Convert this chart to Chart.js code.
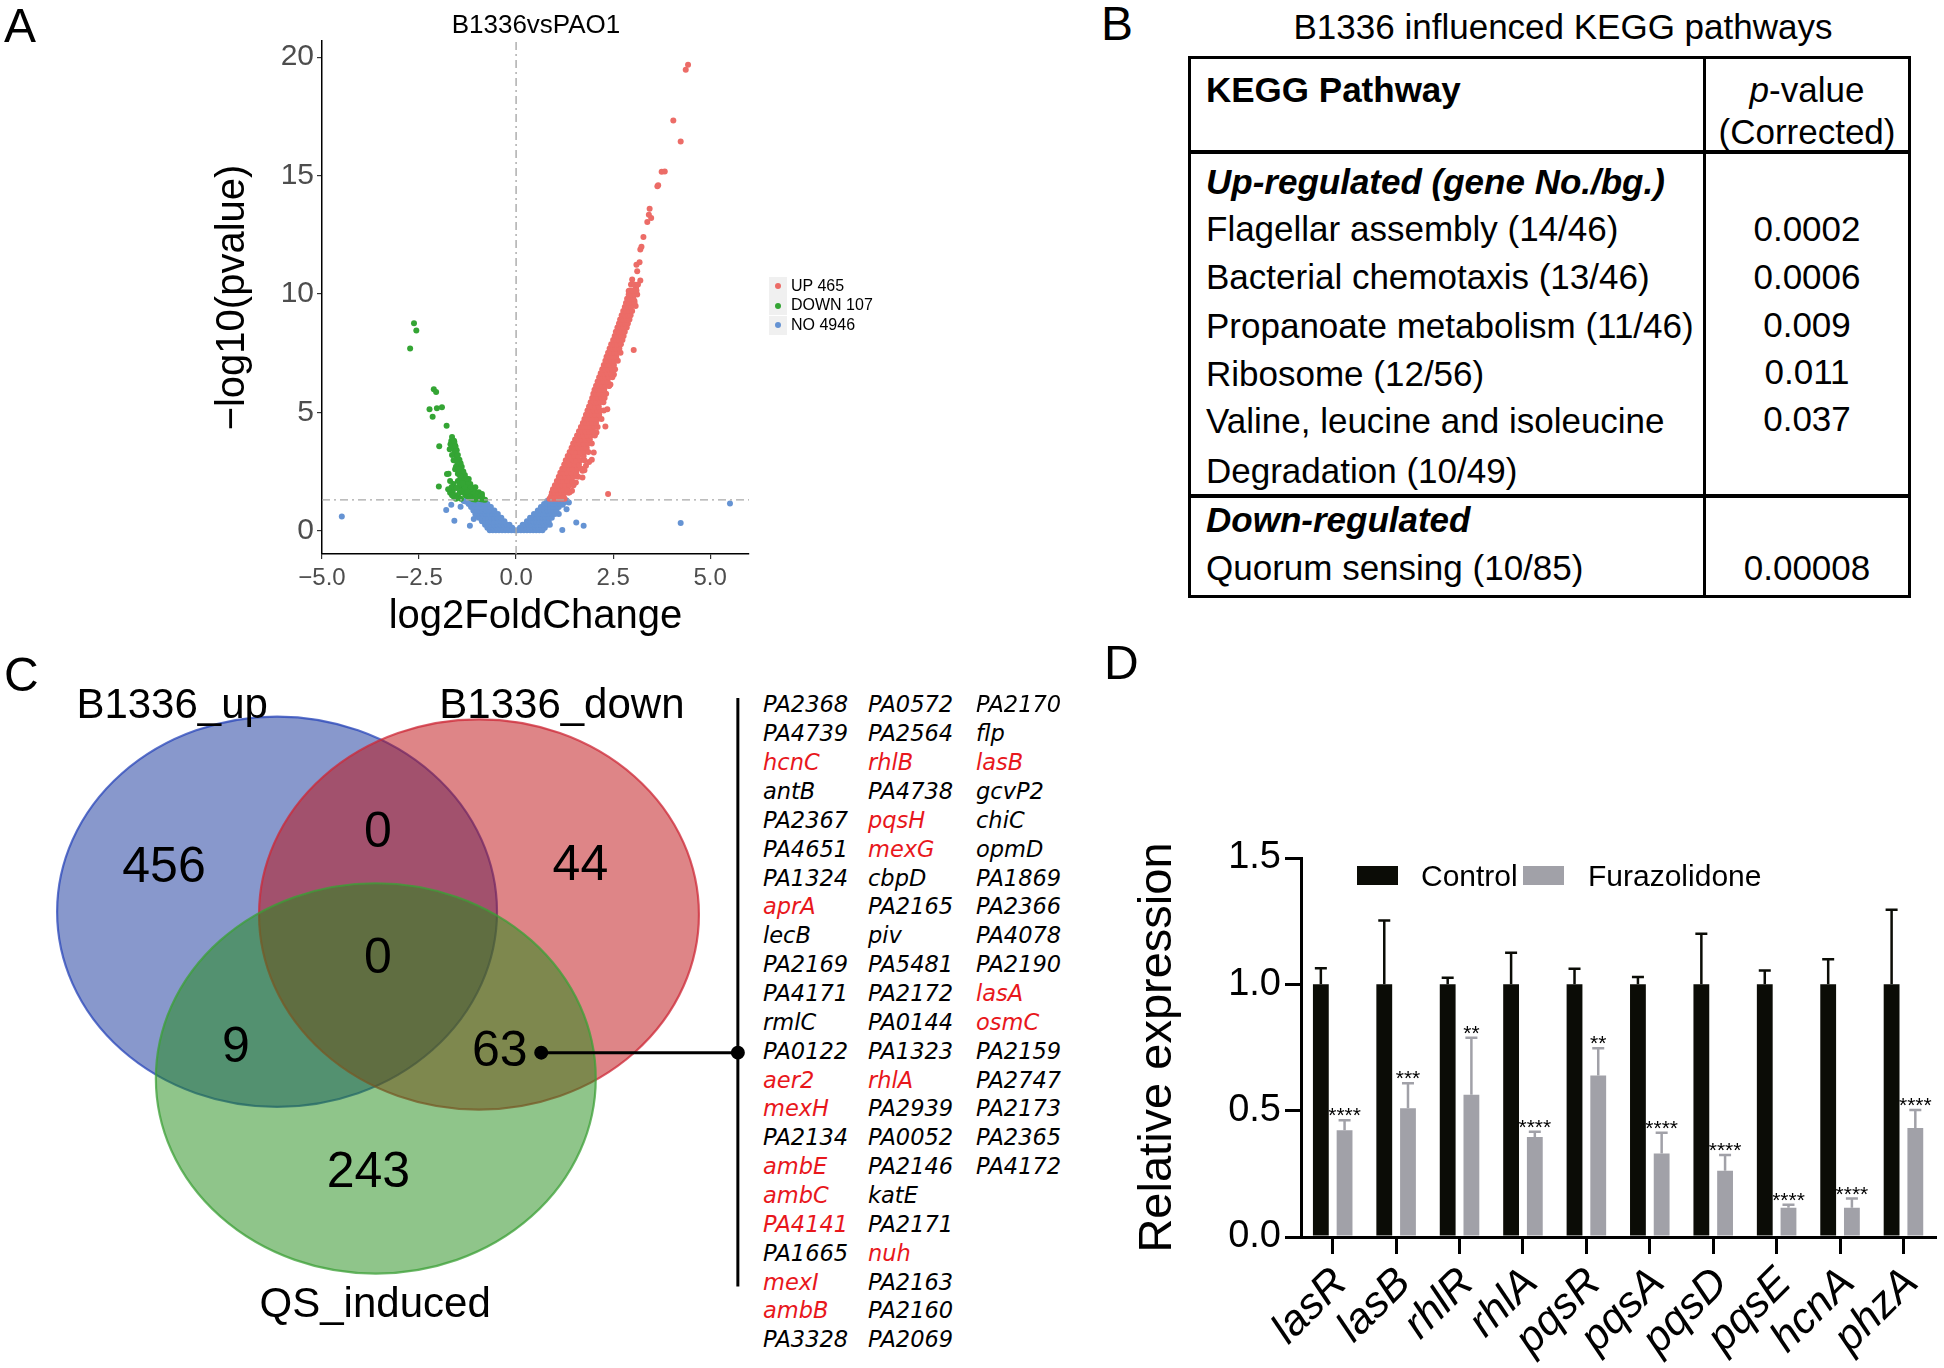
<!DOCTYPE html>
<html>
<head>
<meta charset="utf-8">
<script src="https://cdn.jsdelivr.net/npm/chart.js@4.4.1/dist/chart.umd.min.js"></script>
<style>
  body { margin: 0; background: #fff; }
  #page { position: relative; width: 1944px; height: 1368px; overflow: hidden; font-family: 'Liberation Sans', Arial, sans-serif; color: #000; }
  canvas { position: absolute; }
  .t { position: absolute; white-space: nowrap; line-height: 1.15; }
  .lab { font-size: 48px; }
  .tb { font-size: 35px; }
  .gene { position: absolute; white-space: nowrap; line-height: 1.15; font-family: 'DejaVu Sans', sans-serif; font-style: italic; font-size: 22.5px; }
  .hl { position: absolute; background: #000; }
</style>
</head>
<body>
<div id="page">
  <canvas id="chartA" width="780" height="640" style="left:0;top:0"></canvas>
  <canvas id="chartC" width="760" height="700" style="left:0;top:640px"></canvas>
  <canvas id="chartD" width="844" height="728" style="left:1100px;top:640px"></canvas>

  <div class="t lab" style="left:4px;top:-2px">A</div>
  <div class="t lab" style="left:1101px;top:-4px">B</div>
  <div class="t lab" style="left:4px;top:647px">C</div>
  <div class="t lab" style="left:1104px;top:635px">D</div>

  <div class="t" style="left:536px;top:10px;font-size:26px;transform:translateX(-50%)">B1336vsPAO1</div>
  <div id="legendA"></div>

  <div id="tableB"></div>
  <div id="genes"></div>
  <div id="legendD"></div>
</div>

<script>
// ---------- Panel A: volcano data ----------
const xTicksA = [-5, -2.5, 0, 2.5, 5];
const yTicksA = [0, 5, 10, 15, 20];
const pCutoff = 1.3;
const legendA = ['UP 465', 'DOWN 107', 'NO 4946'];

const upScatter = [
  [4.43,19.68],[4.37,19.47],[4.05,17.33],[4.24,16.44],[3.75,15.16],[3.83,15.17],[3.64,14.55],[3.66,14.59],
  [3.44,13.6],[3.42,13.35],[3.48,13.21],[3.38,13.04],[3.28,12.41],[3.2,11.88],[3.23,11.99],[3.1,11.23],
  [3.18,11.34],[3.12,10.96],[2.99,10.61],[3.2,10.57],[3.09,10.26],[2.9,10.12],[3.05,9.7],[3.08,9.49],
  [3.03,7.63],[2.35,5.13],[2.37,1.55],[2.07,4.15],[1.8,2.74],[1.71,2.53],[1.71,2.25],[1.54,2.04],
  [1.44,1.69],[1.38,1.62],[2.39,6.11],[2.43,6.18],[1.95,3.0],[1.88,2.9],[2.0,3.3],[1.76,2.55],[2.3,4.4],[2.52,6.6]
];
const upRows = [
  [1.35,[0.86,0.94,1.02,1.1,1.18,1.25]],
  [1.45,[0.9,0.98,1.06,1.14,1.22]],
  [1.6,[0.92,1.0,1.08,1.16,1.25,1.35]],
  [1.75,[0.95,1.04,1.13,1.22,1.32]],
  [1.92,[1.0,1.09,1.18,1.27,1.38,1.48]],
  [2.1,[1.05,1.14,1.23,1.32,1.44]],
  [2.28,[1.1,1.19,1.28,1.37,1.48,1.6]],
  [2.45,[1.14,1.23,1.32,1.42,1.55]],
  [2.62,[1.19,1.28,1.37,1.46,1.58,1.68]],
  [2.8,[1.24,1.32,1.41,1.5,1.62]],
  [2.98,[1.28,1.37,1.46,1.55,1.66,1.76]],
  [3.15,[1.33,1.41,1.5,1.6,1.74]],
  [3.32,[1.38,1.46,1.55,1.65,1.76,1.86]],
  [3.5,[1.43,1.51,1.6,1.7,1.82]],
  [3.68,[1.47,1.56,1.64,1.74,1.85,1.95]],
  [3.85,[1.52,1.6,1.69,1.79,1.9]],
  [4.02,[1.57,1.65,1.74,1.83,1.93,2.03]],
  [4.2,[1.62,1.7,1.78,1.88,1.98]],
  [4.38,[1.67,1.75,1.83,1.92,2.02,2.1]],
  [4.55,[1.72,1.8,1.88,1.97,2.06]],
  [4.72,[1.76,1.84,1.92,2.01,2.1,2.2]],
  [4.9,[1.8,1.88,1.96,2.05,2.14]],
  [5.08,[1.84,1.92,2.0,2.09,2.18,2.26]],
  [5.25,[1.88,1.96,2.04,2.13]],
  [5.42,[1.92,2.0,2.08,2.16,2.25]],
  [5.6,[1.96,2.04,2.12,2.2,2.28]],
  [5.78,[1.99,2.07,2.15,2.23,2.32]],
  [5.95,[2.02,2.1,2.18,2.27]],
  [6.12,[2.06,2.14,2.22,2.31,2.4]],
  [6.3,[2.1,2.18,2.26,2.36]],
  [6.48,[2.14,2.22,2.3,2.39,2.48]],
  [6.65,[2.18,2.26,2.34,2.44]],
  [6.82,[2.22,2.3,2.38,2.47,2.55]],
  [7.0,[2.26,2.34,2.42,2.52]],
  [7.18,[2.3,2.38,2.45,2.54,2.62]],
  [7.35,[2.33,2.41,2.49,2.58]],
  [7.52,[2.37,2.45,2.53,2.61,2.69]],
  [7.7,[2.41,2.49,2.57,2.66]],
  [7.88,[2.45,2.53,2.61,2.7]],
  [8.05,[2.5,2.58,2.66,2.74]],
  [8.22,[2.54,2.62,2.7,2.77]],
  [8.4,[2.57,2.65,2.73,2.8]],
  [8.58,[2.61,2.69,2.77,2.85]],
  [8.75,[2.65,2.73,2.81,2.88]],
  [8.92,[2.68,2.76,2.84,2.92]],
  [9.1,[2.72,2.8,2.88,2.95]],
  [9.28,[2.76,2.84,2.92,2.99]],
  [9.45,[2.8,2.88,2.96]],
  [9.62,[2.83,2.91,2.99,3.05]],
  [9.8,[2.86,2.94,3.02]],
  [9.98,[2.9,2.97,3.05,3.12]],
  [10.15,[2.93,3.0,3.1]],
  [10.4,[2.96,3.04,3.14]]
];
const downScatter = [
  [-2.63,8.76],[-2.57,8.46],[-2.73,7.70],[-2.12,5.97],[-2.06,5.86],[-2.23,5.13],[-2.04,5.17],[-1.91,5.21],
  [-2.15,4.81],[-1.79,4.43],[-1.65,3.96],[-1.67,3.79],[-1.69,3.65],[-1.71,3.44],[-1.98,3.57],[-1.63,3.6],
  [-1.6,3.45],[-1.58,3.3],[-1.55,3.2],[-1.52,3.1],[-1.5,3.0],[-1.61,2.98],[-1.48,2.85],[-1.46,2.75],
  [-1.44,2.65],[-1.78,2.39],[-1.74,2.4],[-1.99,1.87],[-1.61,1.97],[-1.63,1.69],[-1.56,1.5],[-1.45,1.62],
  [-1.4,2.5],[-1.38,2.4],[-1.36,2.3],[-1.42,2.2],[-1.5,2.1],[-1.34,2.15],[-1.32,2.05],[-1.3,1.95],
  [-1.28,1.88],[-1.25,1.8],[-1.22,1.72],[-1.2,1.65],[-1.18,1.6],[-1.15,1.55],[-1.12,1.5],[-1.1,1.45],
  [-1.05,1.42],[-1.0,1.38],[-0.95,1.35],[-0.9,1.33],[-0.85,1.32],[-0.8,1.31],[-1.35,1.6],[-1.3,1.5],
  [-1.25,1.45],[-1.2,1.4],[-1.15,1.36],[-1.4,1.8],[-1.38,1.7],[-1.33,1.75],[-1.28,1.6],[-1.23,1.55],
  [-1.1,1.33],[-1.05,1.32],[-1.45,1.95],[-1.5,2.4],[-1.47,2.5],[-1.55,2.7],[-1.57,2.6],[-1.65,3.2],
  [-1.59,3.75],[-1.56,3.55],[-1.7,2.1],[-1.66,1.85],[-1.53,1.8],[-1.48,1.4],[-1.42,1.35],[-1.6,1.42],
  [-1.39,2.1],[-1.22,2.18],[-1.18,1.97],[-1.05,1.83],[-0.96,1.62],[-0.88,1.55],
  [-0.88,1.45],[-0.92,1.5],[-0.98,1.55],[-1.02,1.6],[-1.08,1.7],[-1.12,1.78],[-1.16,1.85],[-1.2,1.95],
  [-1.24,2.05],[-1.28,2.2],[-1.32,2.35],[-1.36,2.5],[-1.4,2.7],[-1.43,2.85],[-1.46,3.0],[-1.5,3.2],
  [-1.53,3.4],[-1.57,3.6],[-1.6,3.8],[-1.0,1.5],[-1.05,1.6],[-1.12,1.65],[-1.18,1.75],[-1.25,1.65],
  [-1.32,1.85],[-1.38,2.0],[-1.44,2.3],[-1.48,2.6],[-1.52,2.9],[-1.7,1.6],[-1.75,1.75],[-1.55,1.35],[-1.65,1.5]
];
const noScatter = [
  [-4.49,0.6],[5.51,1.15],[4.24,0.32],[-1.8,0.87],[-1.67,1.1],[-1.43,1.01],[-1.59,0.42],[-1.19,0.21],
  [1.55,0.35],[1.74,0.21],[1.19,0.03],[1.30,0.91],[1.36,1.19],[1.1,0.7],[0.87,0.25],[-0.66,0.03],
  [-0.64,0.14],[-1.09,0.49],[-1.05,0.7],[-0.92,0.91],[-1.35,1.25],[-1.28,1.22],[1.25,1.2],[1.2,1.1],
  [1.15,1.25],[1.3,1.28]
];
const noRows = [
  [0.02,[-0.68,-0.6,-0.52,-0.44,-0.36,-0.28,-0.2,-0.12,-0.04,0.04,0.12,0.2,0.28,0.36,0.44,0.52,0.6,0.68]],
  [0.12,[-0.74,-0.66,-0.58,-0.5,-0.42,-0.34,-0.26,-0.18,-0.1,0.1,0.18,0.26,0.34,0.42,0.5,0.58,0.66,0.74]],
  [0.25,[-0.8,-0.72,-0.64,-0.56,-0.48,-0.4,-0.32,-0.24,-0.17,0.17,0.24,0.32,0.4,0.48,0.56,0.64,0.72,0.8]],
  [0.4,[-0.88,-0.8,-0.72,-0.64,-0.56,-0.48,-0.4,-0.3,0.28,0.36,0.44,0.52,0.6,0.68,0.76,0.84]],
  [0.55,[-0.96,-0.88,-0.8,-0.72,-0.64,-0.56,-0.48,-0.38,0.36,0.44,0.52,0.6,0.68,0.76,0.84,0.92]],
  [0.7,[-1.02,-0.94,-0.86,-0.78,-0.7,-0.62,-0.54,-0.47,0.46,0.54,0.62,0.7,0.78,0.86,0.94,1.0]],
  [0.85,[-1.1,-1.02,-0.94,-0.86,-0.78,-0.7,-0.62,-0.56,0.56,0.64,0.72,0.8,0.88,0.96,1.04]],
  [1.0,[-1.16,-1.08,-1.0,-0.92,-0.84,-0.76,-0.68,-0.65,0.64,0.72,0.8,0.88,0.96,1.04,1.1]],
  [1.13,[-1.22,-1.14,-1.06,-0.98,-0.9,-0.82,-0.74,0.72,0.8,0.88,0.96,1.04,1.12]],
  [1.25,[-1.3,-1.22,-1.14,-1.06,-0.98,-0.9,-0.82,0.8,0.88,0.96,1.04,1.12,1.2]]
];

// ---------- Panel B: KEGG table ----------
const keggUp = ['Flagellar assembly (14/46)', 'Bacterial chemotaxis (13/46)', 'Propanoate metabolism (11/46)',
                'Ribosome (12/56)', 'Valine, leucine and isoleucine', 'Degradation (10/49)'];
const keggUpP = ['0.0002', '0.0006', '0.009', '0.011', '0.037', ''];
const keggDown = ['Quorum sensing (10/85)'];
const keggDownP = ['0.00008'];

// ---------- Panel C: Venn ----------
const vennSets = ['B1336_up', 'B1336_down', 'QS_induced'];
const vennCounts = [456, 0, 44, 0, 9, 63, 243];
const geneCol1 = ['PA2368','PA4739','hcnC','antB','PA2367','PA4651','PA1324','aprA','lecB','PA2169','PA4171','rmlC',
                  'PA0122','aer2','mexH','PA2134','ambE','ambC','PA4141','PA1665','mexI','ambB','PA3328'];
const geneCol2 = ['PA0572','PA2564','rhlB','PA4738','pqsH','mexG','cbpD','PA2165','piv','PA5481','PA2172','PA0144',
                  'PA1323','rhlA','PA2939','PA0052','PA2146','katE','PA2171','nuh','PA2163','PA2160','PA2069'];
const geneCol3 = ['PA2170','flp','lasB','gcvP2','chiC','opmD','PA1869','PA2366','PA4078','PA2190','lasA','osmC',
                  'PA2159','PA2747','PA2173','PA2365','PA4172'];
const redGenes = ['hcnC','aprA','aer2','mexH','ambE','ambC','PA4141','mexI','ambB','rhlB','pqsH','mexG','rhlA','nuh','lasB','lasA','osmC'];

// ---------- Panel D: qPCR ----------
const genesD = ['lasR','lasB','rhlR','rhlA','pqsR','pqsA','pqsD','pqsE','hcnA','phzA'];
const controlMean = [1, 1, 1, 1, 1, 1, 1, 1, 1, 1];
const controlUpper = [1.064, 1.253, 1.026, 1.125, 1.062, 1.029, 1.20, 1.055, 1.099, 1.295];
const furaMean = [0.422, 0.51, 0.563, 0.396, 0.639, 0.330, 0.262, 0.116, 0.116, 0.431];
const furaUpper = [0.462, 0.609, 0.789, 0.417, 0.747, 0.413, 0.325, 0.128, 0.152, 0.503];
const starsD = ['****','***','**','****','**','****','****','****','****','****'];

const FONT = "'Liberation Sans', Arial, sans-serif";
const RED = '#ec6c67', GREEN = '#34a534', BLUE = '#6593d3';

function rowsToPts(rows) {
  const out = [];
  rows.forEach(([y, xs]) => xs.forEach(x => out.push({x: x, y: y})));
  return out;
}
const pairs = arr => arr.map(p => ({x: p[0], y: p[1]}));
const upPts = pairs(upScatter).concat(rowsToPts(upRows));
const downPts = pairs(downScatter);
const noPts = pairs(noScatter).concat(rowsToPts(noRows));

// ---------- draw A ----------
const xMinA = -5.0, xMaxA = 6.0, yMinA = -0.985, yMaxA = 20.685;
const minus = v => v.toFixed(1).replace('-', '\u2212');

new Chart(document.getElementById('chartA'), {
  type: 'scatter',
  data: {
    datasets: [
      { data: [{x: 0, y: yMinA}, {x: 0, y: yMaxA}], showLine: true, pointRadius: 0,
        borderColor: '#a8a8a8', borderWidth: 1.4, borderDash: [8, 4, 2, 4] },
      { data: [{x: xMinA, y: pCutoff}, {x: xMaxA, y: pCutoff}], showLine: true, pointRadius: 0,
        borderColor: '#a8a8a8', borderWidth: 1.4, borderDash: [8, 4, 2, 4] },
      { label: legendA[0], data: upPts, backgroundColor: RED, pointRadius: 3, borderWidth: 0 },
      { label: legendA[1], data: downPts, backgroundColor: GREEN, pointRadius: 3, borderWidth: 0 },
      { label: legendA[2], data: noPts, backgroundColor: BLUE, pointRadius: 3, borderWidth: 0 }
    ]
  },
  options: {
    responsive: false, animation: false, events: [],
    layout: { padding: { left: 0, top: 41, right: 31, bottom: 0 } },
    plugins: { legend: { display: false }, tooltip: { enabled: false } },
    scales: {
      x: {
        type: 'linear', min: xMinA, max: xMaxA,
        afterBuildTicks: s => { s.ticks = xTicksA.map(v => ({value: v})); },
        afterFit: s => { s.height = 86; },
        ticks: { callback: v => minus(v), font: { size: 24, family: FONT }, color: '#4d4d4d', padding: 5 },
        grid: { drawOnChartArea: false, color: '#333', tickLength: 5, lineWidth: 1.2 },
        border: { color: '#000', width: 1.5 },
        title: { display: true, text: 'log2FoldChange', color: '#000',
                 font: { size: 40, family: FONT, lineHeight: 1 }, padding: { top: 0, bottom: 3 } }
      },
      y: {
        type: 'linear', min: yMinA, max: yMaxA,
        afterBuildTicks: s => { s.ticks = yTicksA.map(v => ({value: v})); },
        afterFit: s => { s.width = 322; },
        ticks: { callback: v => String(v), font: { size: 30, family: FONT }, color: '#4d4d4d', padding: 3 },
        grid: { drawOnChartArea: false, color: '#333', tickLength: 5, lineWidth: 1.2 },
        border: { color: '#000', width: 1.5 },
        title: { display: true, text: '\u2212log10(pvalue)', color: '#000',
                 font: { size: 40, family: FONT, lineHeight: 1 }, padding: { top: 213, bottom: 0 } }
      }
    }
  }
});

// legend A (html)
(function () {
  const cols = [RED, GREEN, BLUE];
  const box = document.getElementById('legendA');
  legendA.forEach((txt, i) => {
    const cy = 286 + i * 19.5;
    box.insertAdjacentHTML('beforeend',
      `<div style="position:absolute;left:769px;top:${cy - 9.5}px;width:18px;height:19px;background:#f0f0f0"></div>` +
      `<div style="position:absolute;left:775px;top:${cy - 3}px;width:6px;height:6px;border-radius:50%;background:${cols[i]}"></div>` +
      `<div class="t" style="left:791px;top:${cy - 9.5}px;font-size:16px">${txt}</div>`);
  });
})();

// ---------- B table (html) ----------
(function () {
  const el = document.getElementById('tableB');
  const fs = 35;
  const text = (x, cy, s, extra) => `<div class="t tb" style="left:${x}px;top:${cy - 0.56 * fs}px;${extra || ''}">${s}</div>`;
  const ctr = (cx, cy, s, extra) => text(cx, cy, s, 'transform:translateX(-50%);' + (extra || ''));
  let h = '';
  h += ctr(1563, 27, 'B1336 influenced KEGG pathways');
  h += `<div style="position:absolute;left:1188px;top:56px;width:723px;height:542px;border:3px solid #000;box-sizing:border-box"></div>`;
  h += `<div class="hl" style="left:1703px;top:56px;width:3px;height:542px"></div>`;
  h += `<div class="hl" style="left:1188px;top:150px;width:723px;height:4px"></div>`;
  h += `<div class="hl" style="left:1188px;top:494px;width:723px;height:4px"></div>`;
  h += text(1206, 90, 'KEGG Pathway', 'font-weight:bold');
  h += ctr(1807, 90, '<i>p</i>-value');
  h += ctr(1807, 132, '(Corrected)');
  h += text(1206, 182, 'Up-regulated (gene No./bg.)', 'font-weight:bold;font-style:italic');
  const upY = [229, 277, 326, 374, 421, 471];
  keggUp.forEach((s, i) => { h += text(1206, upY[i], s); });
  const upPY = [229, 277, 325, 372, 419, 471];
  keggUpP.forEach((s, i) => { if (s) h += ctr(1807, upPY[i], s); });
  h += text(1206, 520, 'Down-regulated', 'font-weight:bold;font-style:italic');
  keggDown.forEach((s, i) => { h += text(1206, 568 + i * 48, s); });
  keggDownP.forEach((s, i) => { h += ctr(1807, 568 + i * 48, s); });
  el.innerHTML = h;
})();

// ---------- C Venn ----------
const vennRadius = 1;
const vennCircles = [
  { cx: -0.459, cy: 0.427, fill: 'rgba(17,49,153,0.5)', stroke: 'rgba(40,70,185,0.75)' },
  { cx: 0.459, cy: 0.413, fill: 'rgba(189,11,15,0.5)', stroke: 'rgba(205,40,55,0.75)' },
  { cx: -0.01, cy: -0.427, fill: 'rgba(31,139,21,0.5)', stroke: 'rgba(60,160,55,0.75)' }
];
const vennCountPos = [[-0.973, 0.648], [0, 0.831], [0.92, 0.661], [0, 0.183], [-0.646, -0.273], [0.554, -0.291], [-0.044, -0.914]];
const vennSetPos = [[-0.936, 1.477], [0.836, 1.477], [-0.013, -1.59]];
const calloutY = -0.295, calloutX0 = 0.742, calloutX1 = 1.636;

const vennPlugin = {
  id: 'vennPlugin',
  beforeDatasetsDraw(chart) {
    const { ctx, scales: { x, y } } = chart;
    ctx.save();
    vennCircles.forEach(c => {
      const px = x.getPixelForValue(c.cx), py = y.getPixelForValue(c.cy);
      const rx = x.getPixelForValue(c.cx + vennRadius) - px;
      const ry = py - y.getPixelForValue(c.cy + vennRadius);
      ctx.beginPath();
      ctx.ellipse(px, py, rx, ry, 0, 0, Math.PI * 2);
      ctx.fillStyle = c.fill; ctx.fill();
      ctx.lineWidth = 2.2; ctx.strokeStyle = c.stroke; ctx.stroke();
    });
    ctx.restore();
  },
  afterDatasetsDraw(chart) {
    const { ctx, scales: { x, y } } = chart;
    ctx.save();
    ctx.fillStyle = '#000'; ctx.textAlign = 'center'; ctx.textBaseline = 'middle';
    ctx.font = `50px ${FONT}`;
    vennCounts.forEach((n, i) => ctx.fillText(String(n), x.getPixelForValue(vennCountPos[i][0]), y.getPixelForValue(vennCountPos[i][1])));
    ctx.font = `42px ${FONT}`;
    vennSets.forEach((s, i) => ctx.fillText(s, x.getPixelForValue(vennSetPos[i][0]), y.getPixelForValue(vennSetPos[i][1])));
    ctx.restore();
  }
};

new Chart(document.getElementById('chartC'), {
  type: 'scatter',
  data: {
    datasets: [
      { data: [{x: calloutX0, y: calloutY}, {x: calloutX1, y: calloutY}], showLine: true,
        borderColor: '#000', borderWidth: 3, pointRadius: 5.5, backgroundColor: '#000' },
      { data: [{x: calloutX1, y: 1.522}, {x: calloutX1, y: -1.494}], showLine: true,
        borderColor: '#000', borderWidth: 3, pointRadius: 0 }
    ]
  },
  options: {
    responsive: false, animation: false, events: [],
    layout: { padding: 0 },
    plugins: { legend: { display: false }, tooltip: { enabled: false } },
    scales: {
      x: { type: 'linear', min: -1.68, max: 1.698, display: false },
      y: { type: 'linear', min: -1.724, max: 1.776, display: false }
    }
  },
  plugins: [vennPlugin]
});

// gene list (html)
(function () {
  const el = document.getElementById('genes');
  const colX = [763, 868, 976];
  let h = '';
  [geneCol1, geneCol2, geneCol3].forEach((col, c) => {
    col.forEach((g, r) => {
      const cy = 705 + r * 28.86;
      const color = redGenes.includes(g) ? '#e8171c' : '#000';
      h += `<div class="gene" style="left:${colX[c]}px;top:${cy - 0.56 * 22.5}px;color:${color}">${g}</div>`;
    });
  });
  el.innerHTML = h;
})();

// ---------- D bars ----------
const CTRL = '#0b0c06', FURA = '#a1a1a8';
const errorBars = {
  id: 'errorBars',
  afterDatasetsDraw(chart) {
    const { ctx } = chart, ys = chart.scales.y;
    const uppers = [controlUpper, furaUpper], cols = [CTRL, FURA];
    ctx.save();
    chart.data.datasets.forEach((ds, i) => {
      chart.getDatasetMeta(i).data.forEach((bar, j) => {
        const top = ys.getPixelForValue(uppers[i][j]);
        ctx.strokeStyle = cols[i]; ctx.lineWidth = 2.5;
        ctx.beginPath();
        ctx.moveTo(bar.x, bar.y); ctx.lineTo(bar.x, top);
        ctx.moveTo(bar.x - 6, top); ctx.lineTo(bar.x + 6, top);
        ctx.stroke();
        if (i === 1) {
          ctx.fillStyle = '#000'; ctx.font = `21px ${FONT}`;
          ctx.textAlign = 'center'; ctx.textBaseline = 'alphabetic';
          ctx.fillText(starsD[j], bar.x, top + 2);
        }
      });
    });
    ctx.restore();
  }
};

new Chart(document.getElementById('chartD'), {
  type: 'bar',
  data: {
    labels: genesD,
    datasets: [
      { label: 'Control', data: controlMean, backgroundColor: CTRL, categoryPercentage: 0.748, barPercentage: 0.667 },
      { label: 'Furazolidone', data: furaMean, backgroundColor: FURA, categoryPercentage: 0.748, barPercentage: 0.667 }
    ]
  },
  options: {
    responsive: false, animation: false, events: [],
    layout: { padding: { left: 0, top: 218, right: 1, bottom: 0 } },
    plugins: { legend: { display: false }, tooltip: { enabled: false } },
    scales: {
      x: {
        afterFit: s => { s.height = 131; },
        ticks: { font: { size: 43, family: FONT, style: 'italic' }, color: '#000', minRotation: 45, maxRotation: 45,
                 autoSkip: false, padding: 4, labelOffset: 8 },
        grid: { drawOnChartArea: false, offset: false, color: '#000', tickLength: 17, lineWidth: 3 },
        border: { color: '#000', width: 3 }
      },
      y: {
        min: 0, max: 1.5,
        afterFit: s => { s.width = 201; },
        ticks: { stepSize: 0.5, callback: v => v.toFixed(1), font: { size: 38, family: FONT }, color: '#000', padding: 4 },
        grid: { drawOnChartArea: false, color: '#000', tickLength: 16, lineWidth: 3 },
        border: { color: '#000', width: 3 },
        title: { display: true, text: 'Relative expression', color: '#000',
                 font: { size: 47, family: FONT, lineHeight: 1 }, padding: { top: 35, bottom: 0 } }
      }
    }
  },
  plugins: [errorBars]
});

// legend D (html)
(function () {
  const el = document.getElementById('legendD');
  const items = [['Control', CTRL, 1357, 1421], ['Furazolidone', FURA, 1523, 1588]];
  let h = '';
  items.forEach(([txt, col, bx, tx]) => {
    h += `<div style="position:absolute;left:${bx}px;top:866px;width:41px;height:19px;background:${col}"></div>`;
    h += `<div class="t" style="left:${tx}px;top:${876 - 0.56 * 30}px;font-size:30px">${txt}</div>`;
  });
  el.innerHTML = h;
})();
</script>
</body>
</html>
